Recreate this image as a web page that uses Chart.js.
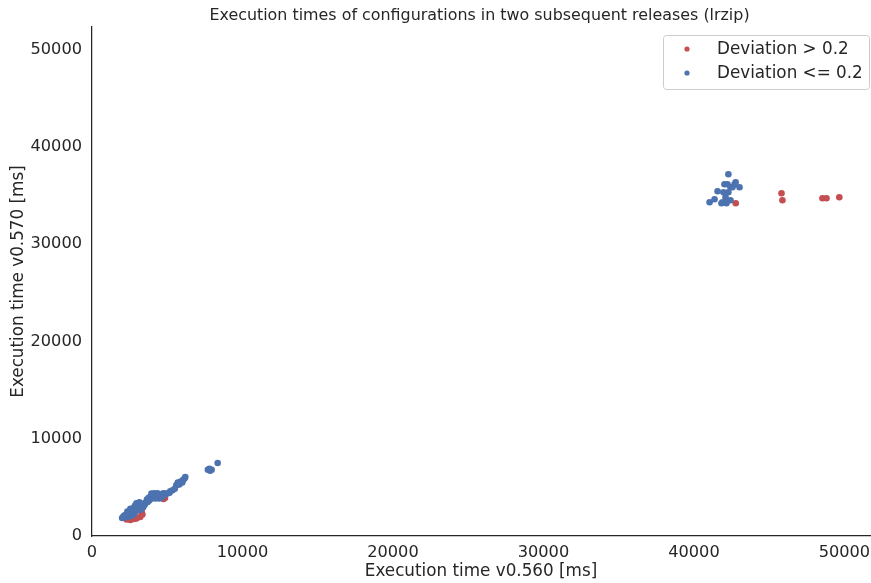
<!DOCTYPE html>
<html>
<head>
<meta charset="utf-8">
<script src="https://cdn.jsdelivr.net/npm/chart.js@4"></script>
<style>
  body { margin: 0; background: #fff; }
  #wrap { width: 871px; height: 583px; }
</style>
</head>
<body>
<div id="wrap"><canvas id="scatter1" width="871" height="583"></canvas></div>
<script>
// execution times [ms], x = v0.560, y = v0.570
var redX = [2300, 2550, 2800, 2950, 3200, 3350, 3300, 2700, 4750, 4850,
            42780, 45820, 45880, 48540, 48810, 49660];
var redY = [1700, 1650, 1750, 1800, 1950, 2200, 2500, 1900, 3800, 3900,
            34190, 35220, 34500, 34700, 34700, 34800];

var blueX = [2000, 2150, 2300, 2450, 2600, 2200, 2400, 2600, 2800, 2350, 2500, 2700, 2900, 2550, 2750,
             2950, 3100, 2850, 3050, 3200, 2950, 3150, 3300, 3400, 3500, 2100, 2700, 3000, 3250,
             3550, 3700, 3650, 3800, 3900, 3850, 4000, 4100, 4000, 4200, 4300, 4250, 4400, 4500,
             4600, 4350, 4150, 3950, 4700, 4800, 4900, 3750, 4450, 4650,
             5050, 5200, 5350, 5500, 5150,
             5600, 5750, 5900, 6050, 6150, 5800, 6000, 6200, 5700,
             7700, 7850, 7950, 7800, 8350,
             42290, 42030, 42230, 42700, 43030, 42430, 41570, 41960, 42290, 41370, 41040, 41900,
             42160, 42430, 42770, 42560, 41830, 42100];
var blueY = [1850, 1900, 1950, 2000, 2050, 2150, 2250, 2300, 2250, 2500, 2600, 2550, 2500, 2800, 2850,
             2900, 2800, 3100, 3200, 3050, 3350, 3450, 3300, 2950, 3200, 2050, 2700, 2700, 2700,
             3400, 3500, 3750, 3650, 3800, 4000, 3900, 4050, 4200, 3850, 4000, 4250, 4150, 4000,
             4200, 4400, 4400, 4350, 4350, 4400, 4300, 3900, 3850, 3950,
             4400, 4600, 4700, 4850, 4450,
             5200, 5400, 5600, 5750, 5900, 5300, 5500, 6050, 5500,
             6800, 6700, 6800, 6900, 7500,
             37170, 36140, 36140, 36140, 35830, 35830, 35420, 35320, 35320, 34600, 34290, 34290,
             34190, 34500, 36350, 35830, 34190, 34800];

var xTicks = [0, 10000, 20000, 30000, 40000, 50000];
var yTicks = [0, 10000, 20000, 30000, 40000, 50000];

var labels = ['Deviation > 0.2', 'Deviation <= 0.2'];
var colors = ['#C44E52', '#4C72B0'];
var textColor = '#262626';
var fontFam = "'DejaVu Sans', sans-serif";

function toPoints(xs, ys) {
    var pts = [];
    for (var i = 0; i < xs.length; i++) pts.push({x: xs[i], y: ys[i]});
    return pts;
}

// the last x tick label pokes out of the canvas, chart.js then shrinks the plot;
// stretch the plot back to the right edge
var fullWidth = {
    id: 'fullWidth',
    afterLayout: function (chart) {
        var right = chart.width - 1;
        var s = chart.scales.x;
        chart.chartArea.right = right;
        chart.chartArea.width = right - chart.chartArea.left;
        s.right = right;
        s.width = right - s.left;
        s.configure();
        s._labelItems = null;
    }
};

// matplotlib-style legend box inside the plot area, top right
var boxLegend = {
    id: 'boxLegend',
    afterDraw: function (chart) {
        var ctx = chart.ctx;
        var left = 663, top = 35, w = 206, h = 54, r = 3;
        ctx.save();
        ctx.fillStyle = 'rgba(255,255,255,0.8)';
        ctx.strokeStyle = '#cccccc';
        ctx.lineWidth = 1;
        ctx.beginPath();
        ctx.roundRect(left + 0.5, top + 0.5, w, h, r);
        ctx.fill();
        ctx.stroke();
        ctx.font = '16.8px ' + fontFam;
        ctx.textBaseline = 'middle';
        chart.data.datasets.forEach(function (ds, i) {
            var cy = 49 + i * 24;
            ctx.fillStyle = ds.backgroundColor;
            ctx.beginPath();
            ctx.arc(687, cy, 2.6, 0, Math.PI * 2);
            ctx.fill();
            ctx.fillStyle = textColor;
            ctx.fillText(ds.label, 717, cy + 1);
        });
        ctx.restore();
    }
};

function plainTick(value) {
    return String(value);
}

var scatterCont = document.getElementById('scatter1');
var myScatter = new Chart(scatterCont, {
    type: 'scatter',
    data: {
        datasets: [{
            label: labels[0],
            data: toPoints(redX, redY),
            backgroundColor: colors[0],
            borderWidth: 0,
            pointRadius: 3.3,
            order: 2
        }, {
            label: labels[1],
            data: toPoints(blueX, blueY),
            backgroundColor: colors[1],
            borderWidth: 0,
            pointRadius: 3.3,
            order: 1
        }]
    },
    options: {
        responsive: false,
        animation: false,
        layout: { padding: { left: 0, right: 1, top: 0, bottom: 0 } },
        plugins: {
            legend: { display: false },
            tooltip: { enabled: false },
            title: {
                display: true,
                fullSize: false,
                text: 'Execution times of configurations in two subsequent releases (lrzip)',
                color: textColor,
                font: { family: fontFam, size: 15.9, weight: 'normal' },
                padding: { top: 6.5, bottom: 1.4 }
            }
        },
        scales: {
            x: {
                type: 'linear',
                min: 0,
                max: 51700,
                grid: { display: false, drawTicks: false },
                border: { display: true, color: '#262626', width: 1.25 },
                ticks: {
                    color: textColor,
                    font: { family: fontFam, size: 16.2 },
                    padding: 7,
                    maxRotation: 0,
                    callback: plainTick
                },
                afterBuildTicks: function (scale) {
                    scale.ticks = xTicks.map(function (v) { return {value: v}; });
                },
                afterFit: function (scale) {
                    scale.height = 47;
                    scale.paddingLeft = 0;
                    scale.paddingRight = 0;
                },
                title: {
                    display: true,
                    text: 'Execution time v0.560 [ms]',
                    color: textColor,
                    font: { family: fontFam, size: 16.8 },
                    padding: { top: 0, bottom: 1 }
                }
            },
            y: {
                type: 'linear',
                min: 0,
                max: 52300,
                grid: { display: false, drawTicks: false },
                border: { display: true, color: '#262626', width: 1.25 },
                ticks: {
                    color: textColor,
                    font: { family: fontFam, size: 16.2 },
                    padding: 10,
                    callback: plainTick
                },
                afterBuildTicks: function (scale) {
                    scale.ticks = yTicks.map(function (v) { return {value: v}; });
                },
                afterFit: function (scale) {
                    scale.width = 92;
                    scale.paddingTop = 0;
                    scale.paddingBottom = 0;
                },
                title: {
                    display: true,
                    text: 'Execution time v0.570 [ms]',
                    color: textColor,
                    font: { family: fontFam, size: 16.8 },
                    padding: { top: 9, bottom: 0 }
                }
            }
        }
    },
    plugins: [fullWidth, boxLegend]
});
</script>
</body>
</html>
